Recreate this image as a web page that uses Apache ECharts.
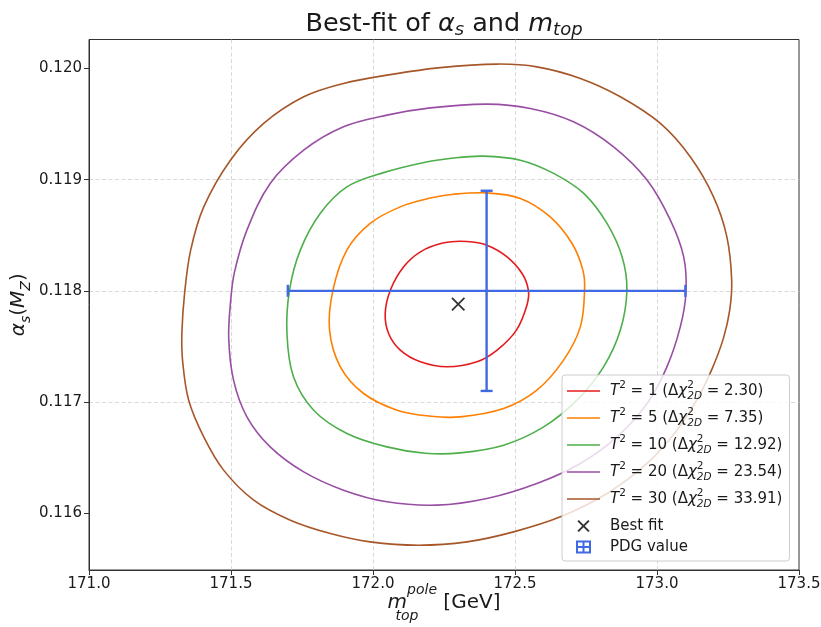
<!DOCTYPE html>
<html><head><meta charset="utf-8">
<script src="https://cdn.jsdelivr.net/npm/echarts@6/dist/echarts.min.js"></script>
<style>html,body{margin:0;padding:0;background:#fff;overflow:hidden}#c{width:821px;height:627px}</style>
</head><body><div id="c"></div>
<script>
const FONT = 'DejaVu Sans';
const xTicks = [171.0, 171.5, 172.0, 172.5, 173.0, 173.5];
const yTicks = [0.116, 0.117, 0.118, 0.119, 0.120];
const t2Levels = [1, 5, 10, 20, 30];
const chi2Levels = ['2.30', '7.35', '12.92', '23.54', '33.91'];
const contourColors = ['#e41a1c', '#ff7f00', '#4daf4a', '#984ea3', '#a65628'];

const contourT2_1 = [[172.043,0.117797],[172.061,0.118006],[172.108,0.118216],[172.167,0.118351],[172.249,0.118432],[172.331,0.118444],[172.401,0.118411],[172.472,0.118306],[172.525,0.118156],[172.547,0.118006],[172.542,0.117871],[172.505,0.117647],[172.437,0.117467],[172.366,0.117362],[172.261,0.117317],[172.167,0.117362],[172.096,0.117467],[172.055,0.117617]];
const contourT2_5 = [[171.847,0.117647],[171.859,0.118006],[171.908,0.118366],[171.990,0.118606],[172.096,0.118755],[172.202,0.118834],[172.284,0.118869],[172.401,0.118881],[172.519,0.118831],[172.624,0.118665],[172.701,0.118426],[172.739,0.118186],[172.745,0.118006],[172.730,0.117676],[172.671,0.117377],[172.577,0.117107],[172.460,0.116942],[172.307,0.116867],[172.202,0.116873],[172.085,0.116927],[171.967,0.117077],[171.885,0.117317]];
const contourT2_10 = [[171.697,0.117617],[171.706,0.118006],[171.744,0.118366],[171.814,0.118696],[171.908,0.118935],[172.037,0.119063],[172.184,0.119157],[172.284,0.119195],[172.389,0.119211],[172.519,0.119175],[172.636,0.119056],[172.742,0.118876],[172.824,0.118606],[172.877,0.118306],[172.894,0.118006],[172.871,0.117647],[172.812,0.117317],[172.718,0.117017],[172.601,0.116777],[172.460,0.116612],[172.307,0.116543],[172.184,0.116540],[172.049,0.116597],[171.908,0.116718],[171.791,0.116927],[171.720,0.117227]];
const contourT2_20 = [[171.492,0.117575],[171.499,0.117916],[171.512,0.118166],[171.556,0.118546],[171.638,0.118966],[171.756,0.119265],[171.896,0.119475],[172.049,0.119580],[172.202,0.119645],[172.401,0.119679],[172.554,0.119640],[172.706,0.119520],[172.847,0.119295],[172.965,0.118996],[173.047,0.118636],[173.094,0.118306],[173.102,0.117988],[173.082,0.117676],[173.035,0.117317],[172.965,0.116987],[172.859,0.116687],[172.730,0.116448],[172.577,0.116268],[172.401,0.116133],[172.225,0.116073],[172.049,0.116103],[171.896,0.116208],[171.756,0.116372],[171.638,0.116597],[171.556,0.116867],[171.509,0.117197]];
const contourT2_30 = [[171.327,0.117620],[171.337,0.117988],[171.358,0.118366],[171.404,0.118755],[171.498,0.119175],[171.615,0.119505],[171.756,0.119745],[171.896,0.119865],[172.061,0.119944],[172.237,0.120007],[172.438,0.120039],[172.577,0.120014],[172.730,0.119910],[172.871,0.119745],[173.012,0.119505],[173.117,0.119205],[173.199,0.118845],[173.246,0.118486],[173.263,0.118096],[173.256,0.117826],[173.234,0.117575],[173.195,0.117305],[173.146,0.117047],[173.070,0.116747],[172.965,0.116448],[172.824,0.116178],[172.660,0.115968],[172.495,0.115833],[172.331,0.115743],[172.160,0.115713],[171.990,0.115743],[171.850,0.115818],[171.709,0.115938],[171.580,0.116118],[171.474,0.116388],[171.404,0.116687],[171.351,0.117017],[171.330,0.117359]];
const contours = [contourT2_1, contourT2_5, contourT2_10, contourT2_20, contourT2_30];

const bestFit = [172.30, 0.11788];
const pdgMtop = 172.4, pdgMtopErr = 0.7, pdgAlphas = 0.1180, pdgAlphasErr = 0.0009;

const BLUE = '#4169e1';
const TXT = '#1a1a1a';
const crossSymbol = 'path://M0 0M12 12M1 1L11 11M11 1L1 11';
const pdgIcon = 'path://M0 0H15V13H0Z M2 2V5.5H6.5V2Z M8.5 2V5.5H13V2Z M2 7.5V11H6.5V7.5Z M8.5 7.5V11H13V7.5Z';
const lineIcon = 'path://M0 0H33V1.6H0Z';

const seriesNames = t2Levels.map(t => 'T2 = ' + t);
const legendText = {};
t2Levels.forEach((t, i) => {
  legendText[seriesNames[i]] = '{it|T}{sup|2}{n| = ' + t + ' (Δ}{it|χ}{sup0|2}{sub|2D}{n| = ' + chi2Levels[i] + ')}';
});

const legendRich = {
  n: {fontFamily: FONT, fontSize: 15, lineHeight: 22, color: TXT},
  it: {fontFamily: FONT, fontStyle: 'italic', fontSize: 15, lineHeight: 22, color: TXT},
  sup: {fontFamily: FONT, fontSize: 10.5, lineHeight: 10, verticalAlign: 'top', color: TXT},
  sup0: {fontFamily: FONT, fontSize: 10.5, lineHeight: 10, verticalAlign: 'top', width: 0, color: TXT},
  sub: {fontFamily: FONT, fontStyle: 'italic', fontSize: 10.5, lineHeight: 10, verticalAlign: 'bottom', color: TXT}
};

const gridLine = {show: true, showMinLine: false, showMaxLine: false, lineStyle: {color: '#cfcfcf', width: 0.8, type: [4, 2.5]}};

const series = contours.map((c, i) => ({
  type: 'custom', name: seriesNames[i], z: 2, silent: true,
  itemStyle: {color: contourColors[i]},
  data: c, encode: {x: 0, y: 1},
  renderItem: function (params, api) {
    if (params.dataIndexInside !== 0) return null;
    const pts = [];
    for (let k = 0; k < params.dataInsideLength; k++) {
      pts.push(api.coord([api.value(0, k), api.value(1, k)]));
    }
    return {type: 'polygon', shape: {points: pts, smooth: 0.35},
      style: {fill: null, stroke: contourColors[i], lineWidth: 1.6}};
  }
}));

series.push({
  type: 'custom', name: 'PDG value', z: 3, silent: true,
  itemStyle: {color: BLUE},
  data: [[pdgMtop, pdgAlphas, pdgMtopErr, pdgAlphasErr]],
  encode: {x: 0, y: 1},
  renderItem: function (params, api) {
    const x = api.value(0), y = api.value(1), ex = api.value(2), ey = api.value(3);
    const L = api.coord([x - ex, y]), R = api.coord([x + ex, y]);
    const T = api.coord([x, y + ey]), B = api.coord([x, y - ey]);
    const st = {stroke: BLUE, lineWidth: 2.4};
    const cap = 6;
    const ln = (x1, y1, x2, y2) => ({type: 'line', shape: {x1, y1, x2, y2}, style: st});
    return {type: 'group', children: [
      ln(L[0], L[1], R[0], R[1]),
      ln(T[0], T[1], B[0], B[1]),
      ln(L[0], L[1] - cap, L[0], L[1] + cap),
      ln(R[0], R[1] - cap, R[0], R[1] + cap),
      ln(T[0] - cap, T[1], T[0] + cap, T[1]),
      ln(B[0] - cap, B[1], B[0] + cap, B[1])
    ]};
  }
});

series.push({
  type: 'scatter', name: 'Best fit', z: 4, silent: true,
  data: [bestFit], symbol: crossSymbol, symbolSize: 15,
  itemStyle: {color: 'rgba(0,0,0,0)', borderColor: '#000', borderWidth: 1.8}
});

const chart = echarts.init(document.getElementById('c'), null, {renderer: 'canvas'});
chart.setOption({
  animation: false,
  backgroundColor: '#fff',
  title: {
    text: '{n|Best-fit of }{i|α}{sub|s}{n| and }{i|m}{sub|top}',
    left: 439, top: 4, textAlign: 'center',
    textStyle: {
      fontWeight: 'normal',
      rich: {
        n: {fontFamily: FONT, fontWeight: 'normal', fontSize: 25.5, lineHeight: 30, color: TXT},
        i: {fontFamily: FONT, fontWeight: 'normal', fontStyle: 'italic', fontSize: 25.5, lineHeight: 30, color: TXT},
        sub: {fontFamily: FONT, fontWeight: 'normal', fontStyle: 'italic', fontSize: 18, lineHeight: 18, verticalAlign: 'bottom', color: TXT}
      }
    }
  },
  grid: {left: 89, right: 22, top: 39.5, bottom: 57, show: true, borderColor: '#333', borderWidth: 1, backgroundColor: 'transparent', containLabel: false, outerBoundsMode: 'none'},
  legend: [
    {
      orient: 'vertical', left: 562, top: 375,
      itemWidth: 33, itemHeight: 13, itemGap: 5,
      padding: [5, 7, 51, 5],
      backgroundColor: 'rgba(255,255,255,0.8)', borderColor: '#cccccc', borderWidth: 1, borderRadius: 3,
      selectedMode: false,
      data: seriesNames.map(n => ({name: n, icon: lineIcon})),
      formatter: name => legendText[name],
      textStyle: {fontFamily: FONT, fontSize: 15, color: TXT, padding: [0, 0, 0, 5], rich: legendRich}
    },
    {
      orient: 'vertical', left: 576, top: 518,
      itemWidth: 33, itemHeight: 13, itemGap: 5,
      padding: 0,
      selectedMode: false,
      data: ['Best fit', {name: 'PDG value', icon: pdgIcon}],
      textStyle: {fontFamily: FONT, fontSize: 15, lineHeight: 16, color: TXT, padding: [0, 0, 0, 5]}
    }
  ],
  xAxis: {
    type: 'value', min: 171.0, max: 173.5, interval: 0.5,
    name: '{i|m}{sub0|top}{sup|pole}{n| [GeV]}', nameLocation: 'middle', nameGap: 13, nameMoveOverlap: false,
    nameTextStyle: {
      rich: {
        i: {fontFamily: FONT, fontStyle: 'italic', fontSize: 20, lineHeight: 40, color: TXT},
        n: {fontFamily: FONT, fontSize: 20, lineHeight: 40, color: TXT},
        sup: {fontFamily: FONT, fontStyle: 'italic', fontSize: 14, lineHeight: 10, verticalAlign: 'top', color: TXT},
        sub0: {fontFamily: FONT, fontStyle: 'italic', fontSize: 14, lineHeight: 10, verticalAlign: 'bottom', width: 0, color: TXT}
      }
    },
    axisLine: {show: true, lineStyle: {color: '#333', width: 1}},
    axisTick: {show: true, length: 5, lineStyle: {color: '#333', width: 1}},
    axisLabel: {fontFamily: FONT, fontSize: 15, color: TXT, margin: 7, formatter: v => v.toFixed(1)},
    splitLine: gridLine
  },
  yAxis: {
    type: 'value', min: 0.11549, max: 0.12026,
    name: '{i|α}{sub|s}{n|(}{i|M}{sub|Z}{n|)}', nameLocation: 'middle', nameGap: 56, nameRotate: 90, nameMoveOverlap: false,
    nameTextStyle: {
      rich: {
        i: {fontFamily: FONT, fontStyle: 'italic', fontSize: 20, lineHeight: 28, color: TXT},
        n: {fontFamily: FONT, fontSize: 20, lineHeight: 28, color: TXT},
        sub: {fontFamily: FONT, fontStyle: 'italic', fontSize: 14, lineHeight: 14, verticalAlign: 'bottom', color: TXT}
      }
    },
    axisLine: {show: true, lineStyle: {color: '#333', width: 1}},
    axisTick: {show: true, length: 5, customValues: yTicks, lineStyle: {color: '#333', width: 1}},
    axisLabel: {fontFamily: FONT, fontSize: 15, color: TXT, margin: 7, customValues: yTicks, formatter: v => (+v).toFixed(3)},
    splitLine: gridLine
  },
  series: series
});
</script></body></html>
